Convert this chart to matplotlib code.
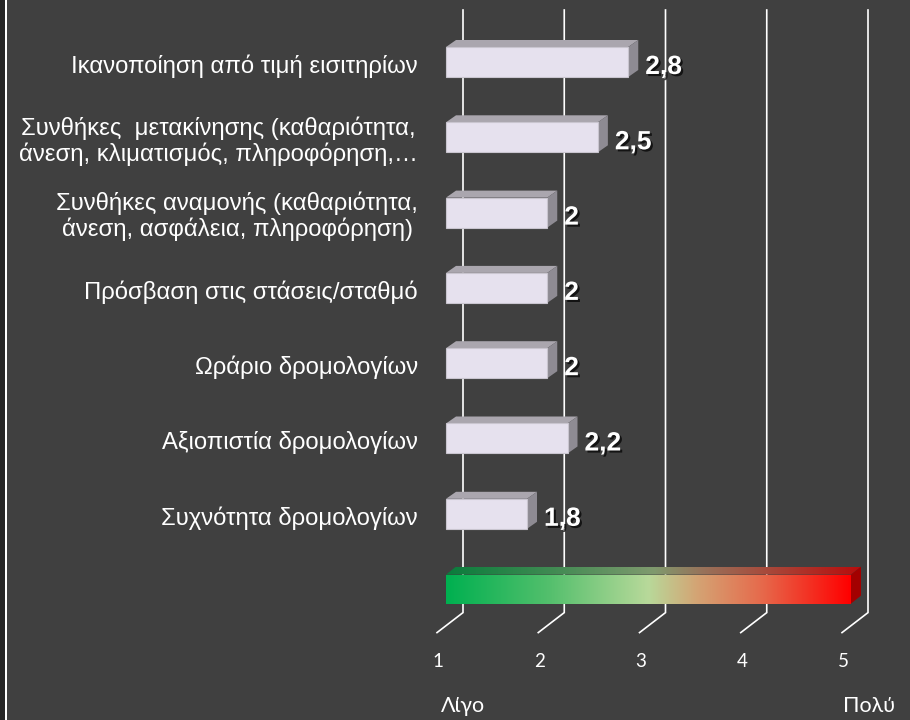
import matplotlib
matplotlib.use("Agg")
import matplotlib.pyplot as plt
import matplotlib.patheffects as pe
import numpy as np
from matplotlib.colors import LinearSegmentedColormap
from matplotlib.patches import Polygon, Rectangle

categories = [
    "Ικανοποίηση από τιμή εισιτηρίων",
    "Συνθήκες  μετακίνησης (καθαριότητα,\nάνεση, κλιματισμός, πληροφόρηση,…",
    "Συνθήκες αναμονής (καθαριότητα,\nάνεση, ασφάλεια, πληροφόρηση)",
    "Πρόσβαση στις στάσεις/σταθμό",
    "Ωράριο δρομολογίων",
    "Αξιοπιστία δρομολογίων",
    "Συχνότητα δρομολογίων",
]
values = [2.8, 2.5, 2.0, 2.0, 2.0, 2.2, 1.8]
value_labels = ["2,8", "2,5", "2", "2", "2", "2,2", "1,8"]
scale_ticks = [1, 2, 3, 4, 5]
scale_ends = ["Λίγο", "Πολύ"]

BG = "#404040"
W, H = 910, 720
UX = 101.25   # pixels per scale unit
UY = 75.3     # pixels per category row
X0_PX, Y0_PX = 446, 62   # where value 1 / first row sit


def dx(p):
    return p / UX


def dy(p):
    return p / UY


fig = plt.figure(figsize=(W / 100, H / 100), dpi=100, facecolor=BG)
ax = fig.add_axes([0, 0, 1, 1])
ax.set_facecolor(BG)
ax.axis("off")

# left frame strip
fig.patches.append(Rectangle((0, 0), 5 / W, 1, transform=fig.transFigure,
                             facecolor="#262626", edgecolor="none", zorder=0))
fig.patches.append(Rectangle((5 / W, 0), 2 / W, 1, transform=fig.transFigure,
                             facecolor="white", edgecolor="none", zorder=0))

n = len(categories)
scale_row = n            # row of the coloured scale bar
top_y = -dy(52)
corner_y = scale_row + dy(23.5)
floor_y = scale_row + dy(43.5)

# back-wall gridlines bending onto the floor
for g in scale_ticks:
    ax.plot([g + dx(17), g + dx(17), g - dx(9)], [top_y, corner_y, floor_y],
            color="white", lw=1.2, zorder=1, solid_joinstyle="miter")

# 3D bars
h = dy(30)
ox, oy = dx(10), dy(7)
for i, v in enumerate(values):
    y_top = i - h / 2
    y_bot = i + h / 2
    ax.add_patch(Polygon([(1, y_top), (v, y_top), (v + ox, y_top - oy), (1 + ox, y_top - oy)],
                         closed=True, facecolor="#aaa6ae", edgecolor="none", zorder=3))
    ax.add_patch(Polygon([(v, y_top), (v + ox, y_top - oy), (v + ox, y_bot - oy), (v, y_bot)],
                         closed=True, facecolor="#8e8b93", edgecolor="none", zorder=3))
    ax.add_patch(Rectangle((1, y_top), v - 1, h, facecolor="#e6e1ee",
                           edgecolor="#c9c5cf", lw=0.8, zorder=4))
    ax.text(v + dx(17), i + dy(5), value_labels[i], color="white", fontsize=19,
            fontweight="bold", family=["Liberation Sans Narrow", "Liberation Sans"],
            ha="left", va="center", zorder=5,
            path_effects=[pe.withSimplePatchShadow(offset=(1.5, -1.5),
                                                   shadow_rgbFace="black", alpha=0.7)])
    ax.text(1 - dx(28), i + dy(4), categories[i], color="white", fontsize=17.2,
            family=["Liberation Sans", "DejaVu Sans"], ha="right", va="center",
            multialignment="center", linespacing=1.15, zorder=5)

# green-to-red scale bar
cmap = LinearSegmentedColormap.from_list("scale", [
    (0.0, "#00b050"), (0.25, "#52bf6c"), (0.5, "#b8d99a"),
    (0.62, "#d4a474"), (0.78, "#e66a4c"), (1.0, "#ff0000")])
cmap_dark = LinearSegmentedColormap.from_list("scale_dark", [
    (0.0, "#0a7c3c"), (0.25, "#3f8a52"), (0.5, "#7f9a6e"),
    (0.62, "#98725a"), (0.78, "#a8483a"), (1.0, "#b80c0c")])
grad = np.linspace(0, 1, 256).reshape(1, -1)
lo, hi = scale_ticks[0], scale_ticks[-1]
sh = dy(29)
sy_top = scale_row - sh / 2
sy_bot = scale_row + sh / 2
sox, soy = dx(10), dy(8)

top_face = Polygon([(lo, sy_top), (hi, sy_top), (hi + sox, sy_top - soy), (lo + sox, sy_top - soy)],
                   closed=True, facecolor="none", edgecolor="none")
ax.add_patch(top_face)
im_top = ax.imshow(grad, cmap=cmap_dark, aspect="auto", zorder=3,
                   extent=(lo, hi + sox, sy_top, sy_top - soy))
im_top.set_clip_path(top_face)
ax.add_patch(Polygon([(hi, sy_top), (hi + sox, sy_top - soy), (hi + sox, sy_bot - soy), (hi, sy_bot)],
                     closed=True, facecolor="#a30000", edgecolor="none", zorder=3))
ax.imshow(grad, cmap=cmap, aspect="auto", zorder=4,
          extent=(lo, hi, sy_bot, sy_top))

# scale numbers and end words
for g in scale_ticks:
    ax.text(g - dx(8), scale_row + dy(72), str(g), color="white", fontsize=13.5,
            family=["Lato", "DejaVu Sans"], ha="center", va="center")
ax.text(lo - dx(5), scale_row + dy(117), scale_ends[0], color="white", fontsize=15.5,
        family=["Lato", "DejaVu Sans"], ha="left", va="center")
ax.text(hi - dx(8), scale_row + dy(117), scale_ends[1], color="white", fontsize=15.5,
        family=["Lato", "DejaVu Sans"], ha="left", va="center")

ax.set_xlim(1 - X0_PX / UX, 1 + (W - X0_PX) / UX)
ax.set_ylim((H - Y0_PX) / UY, -Y0_PX / UY)

fig.savefig("out.png", dpi=100, facecolor=BG)
